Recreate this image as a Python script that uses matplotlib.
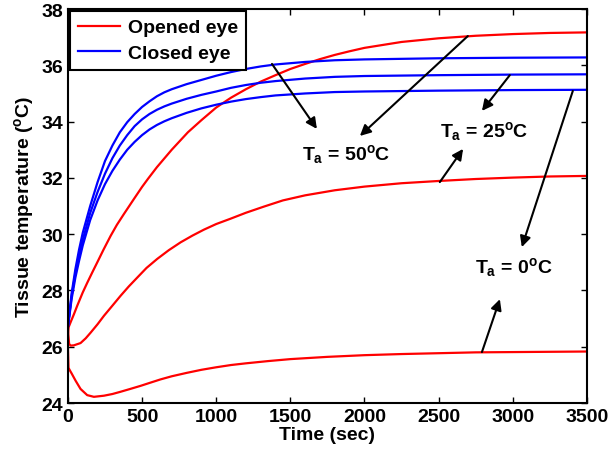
import numpy as np
import matplotlib
matplotlib.use('Agg')
import matplotlib.pyplot as plt

plt.rcParams['font.family'] = ['Liberation Sans', 'DejaVu Sans']
plt.rcParams['font.weight'] = 'bold'
plt.rcParams['mathtext.fontset'] = 'custom'
plt.rcParams['mathtext.rm'] = 'Liberation Sans:bold'
plt.rcParams['mathtext.it'] = 'Liberation Sans:bold'
plt.rcParams['mathtext.bf'] = 'Liberation Sans:bold'
plt.rcParams['mathtext.sf'] = 'Liberation Sans:bold'

## Closed eye curves (blue)
t_blue = [0, 10, 25, 50, 75, 100, 150, 200, 250, 300, 350, 400, 450, 500, 550, 600, 650, 700, 800, 900,
          1000, 1100, 1200, 1300, 1400, 1600, 1800, 2000, 2500, 3000, 3500]
blue_50 = [26.7, 27.2, 27.9, 28.75, 29.45, 30.05, 31.0, 31.85, 32.6, 33.15, 33.62, 33.98, 34.27, 34.52,
           34.72, 34.9, 35.04, 35.15, 35.33, 35.48, 35.63, 35.76, 35.87, 35.96, 36.03, 36.12, 36.18,
           36.21, 36.25, 36.27, 36.28]
blue_25 = [26.7, 27.15, 27.8, 28.6, 29.25, 29.8, 30.75, 31.5, 32.15, 32.7, 33.15, 33.52, 33.84, 34.08,
           34.27, 34.42, 34.54, 34.64, 34.81, 34.95, 35.07, 35.2, 35.3, 35.38, 35.44, 35.53, 35.59,
           35.62, 35.65, 35.67, 35.68]
blue_0 = [26.7, 27.1, 27.7, 28.45, 29.05, 29.6, 30.5, 31.2, 31.78, 32.25, 32.65, 33.0, 33.28, 33.52,
          33.72, 33.88, 34.01, 34.12, 34.31, 34.47, 34.6, 34.71, 34.8, 34.87, 34.93, 35.0, 35.05,
          35.07, 35.1, 35.12, 35.13]

## Opened eye curves (red)
t_red_50 = [0, 5, 18, 40, 63, 100, 130, 165, 198, 240, 288, 330, 378, 445, 500, 539, 600, 700, 809, 900,
            1000, 1100, 1200, 1300, 1400, 1500, 1600, 1700, 1800, 1900, 2000, 2250, 2500, 2750, 3000, 3250, 3500]
red_50 = [26.45, 26.7, 26.87, 27.15, 27.46, 27.93, 28.27, 28.65, 29.0, 29.45, 29.94, 30.33, 30.72, 31.25,
          31.68, 31.96, 32.38, 33.0, 33.62, 34.05, 34.5, 34.85, 35.15, 35.42, 35.65, 35.87, 36.05, 36.22,
          36.37, 36.5, 36.62, 36.83, 36.96, 37.05, 37.11, 37.15, 37.17]
t_red_25 = [0, 8, 18, 40, 85, 120, 153, 200, 243, 300, 355, 410, 468, 530, 602, 680, 760, 840, 917, 1000,
            1097, 1200, 1322, 1450, 1600, 1800, 2000, 2250, 2500, 2750, 3000, 3250, 3500]
red_25 = [26.6, 26.1, 26.04, 26.05, 26.13, 26.3, 26.5, 26.8, 27.1, 27.46, 27.81, 28.14, 28.46, 28.8,
          29.12, 29.43, 29.71, 29.95, 30.16, 30.36, 30.55, 30.76, 30.98, 31.2, 31.38, 31.56, 31.69,
          31.81, 31.89, 31.96, 32.01, 32.05, 32.07]
t_red_0 = [0, 4, 12, 25, 52, 85, 130, 175, 243, 300, 355, 420, 490, 560, 625, 700, 800, 900, 1000, 1100,
           1200, 1350, 1500, 1750, 2000, 2250, 2500, 2750, 3000, 3250, 3500]
red_0 = [26.0, 25.25, 25.17, 25.05, 24.79, 24.5, 24.28, 24.22, 24.26, 24.32, 24.4, 24.5, 24.61, 24.73,
         24.84, 24.95, 25.07, 25.18, 25.27, 25.35, 25.41, 25.49, 25.56, 25.64, 25.7, 25.74, 25.77,
         25.8, 25.81, 25.82, 25.83]

## Annotation arrows (start on a curve, tip near a label)
arrow_start = [(1376, 36.05), (2697, 37.04), (2980, 35.65), (2508, 31.85), (3405, 35.09), (2792, 25.81)]
arrow_tip = [(1679, 33.74), (1969, 33.49), (2792, 34.38), (2665, 33.03), (3061, 29.54), (2913, 27.69)]

label_text = [r'$T_a$ = 50$^o$C', r'$T_a$ = 25$^o$C', r'$T_a$ = 0$^o$C']
label_pos = [(1578, 32.67), (2508, 33.49), (2744, 28.65)]

fig = plt.figure(figsize=(6.12, 4.56), dpi=100)
ax = fig.add_axes([0.111, 0.114, 0.848, 0.864])

lw = 1.6
ax.plot(t_red_50, red_50, color='r', lw=lw, label='Opened eye')
ax.plot(t_blue, blue_50, color='b', lw=lw, label='Closed eye')
ax.plot(t_blue, blue_25, color='b', lw=lw)
ax.plot(t_blue, blue_0, color='b', lw=lw)
ax.plot(t_red_25, red_25, color='r', lw=lw)
ax.plot(t_red_0, red_0, color='r', lw=lw)

for s, e in zip(arrow_start, arrow_tip):
    ax.annotate('', xy=e, xytext=s,
                arrowprops=dict(arrowstyle='-|>', color='k', lw=1.5,
                                mutation_scale=16, shrinkA=0, shrinkB=0))

for txt, pos in zip(label_text, label_pos):
    ax.text(pos[0], pos[1], txt, fontsize=14, fontweight='bold',
            ha='left', va='baseline')

ax.set_xlim(0, 3500)
ax.set_ylim(24, 38)
ax.set_xticks(np.arange(0, 3501, 500))
ax.set_yticks(np.arange(24, 39, 2))
ax.tick_params(direction='in', top=True, right=True, length=4, width=1,
               labelsize=14)
for sp in ax.spines.values():
    sp.set_linewidth(1.5)

ax.set_xlabel('Time (sec)', fontsize=14, fontweight='bold', labelpad=1)
ax.set_ylabel(r'Tissue temperature ($^o$C)', fontsize=14, fontweight='bold', labelpad=4)

leg = ax.legend(loc='upper left', fontsize=14, fancybox=False, borderaxespad=0.1,
                handlelength=2.2, handletextpad=0.4, labelspacing=0.4, framealpha=1)
leg.get_frame().set_edgecolor('k')
leg.get_frame().set_linewidth(1.5)

fig.savefig('out.png', dpi=100)
